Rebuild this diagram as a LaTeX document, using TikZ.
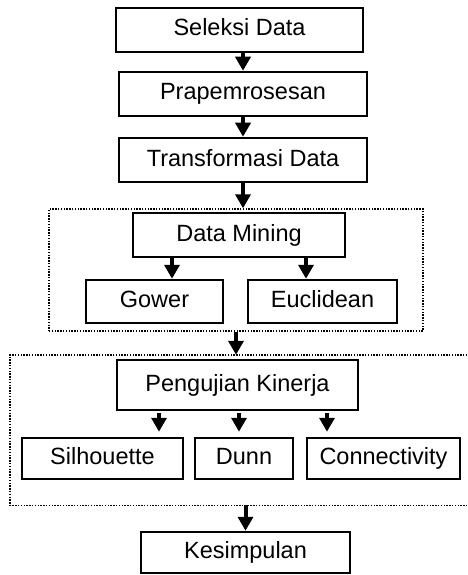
\documentclass[tikz,border=0pt]{standalone}
\usepackage{fontspec}
\setmainfont{Liberation Sans}
\usetikzlibrary{arrows.meta,calc}
\begin{document}
\begin{tikzpicture}[x=1pt,y=-1pt,
  box/.style={draw,line width=2.5pt,rectangle,inner sep=0pt,text height=17pt,text depth=5pt,font=\fontsize{23.5pt}{28pt}\selectfont},
  grp/.style={rectangle,inner sep=0pt},
  dotline/.style={line width=1.4pt,dash pattern=on 1.4pt off 1.4pt},
  arr/.style={line width=4pt,-{Triangle[width=15pt,length=14pt]}}]
\useasboundingbox (0,0) rectangle (467,575);
% group frames
\node[grp,draw,dotline,minimum width=374pt,minimum height=122pt] (g1) at (236,270) {};
\node[grp,minimum width=457pt,minimum height=150pt] (g2) at (238.5,430) {};
\draw[dotline] (g2.north east) -- (g2.north west) -- (g2.south west) -- (g2.south east);
% boxes
\node[box,minimum width=247pt,minimum height=44pt] (sel) at (239.5,30) {Seleksi Data};
\node[box,minimum width=248pt,minimum height=44pt] (pre) at (243,94) {Prapemrosesan};
\node[box,minimum width=248pt,minimum height=44pt] (tf) at (243,160) {Transformasi Data};
\node[box,minimum width=212pt,minimum height=44pt] (dm) at (239,235) {Data Mining};
\node[box,minimum width=137pt,minimum height=43pt] (gow) at (154.5,301.5) {Gower};
\node[box,minimum width=149pt,minimum height=43pt] (euc) at (322.5,301.5) {Euclidean};
\node[box,minimum width=241pt,minimum height=50pt] (pk) at (237.5,385) {Pengujian Kinerja};
\node[box,minimum width=161pt,minimum height=41pt] (sil) at (102.5,458.5) {Silhouette};
\node[box,minimum width=98pt,minimum height=41pt] (dun) at (244,458.5) {Dunn};
\node[box,minimum width=153pt,minimum height=41pt] (con) at (383.5,458.5) {Connectivity};
\node[box,minimum width=209pt,minimum height=41pt] (kes) at (245.5,552.5) {Kesimpulan};
% arrows
\draw[arr] (sel.south -| pre.north) -- (pre.north);
\draw[arr] (pre.south) -- (tf.north);
\draw[arr] (tf.south) -- (tf.south |- g1.north);
\draw[arr] ([xshift=17.5pt]gow.north |- dm.south) -- ([xshift=17.5pt]gow.north);
\draw[arr] ([xshift=-16.5pt]euc.north |- dm.south) -- ([xshift=-16.5pt]euc.north);
\draw[arr] (g1.south) -- (g1.south |- g2.north);
\draw[arr] ($(pk.south -| sil.north)+(56.5,2)$) -- ($(sil.north)+(56.5,-5)$);
\draw[arr] ($(pk.south -| dun.north)+(-5,2)$) -- ($(dun.north)+(-5,-5)$);
\draw[arr] ($(pk.south -| con.north)+(-56.5,2)$) -- ($(con.north)+(-56.5,-5)$);
\draw[arr] (kes.north |- g2.south) -- (kes.north);
\end{tikzpicture}
\end{document}
